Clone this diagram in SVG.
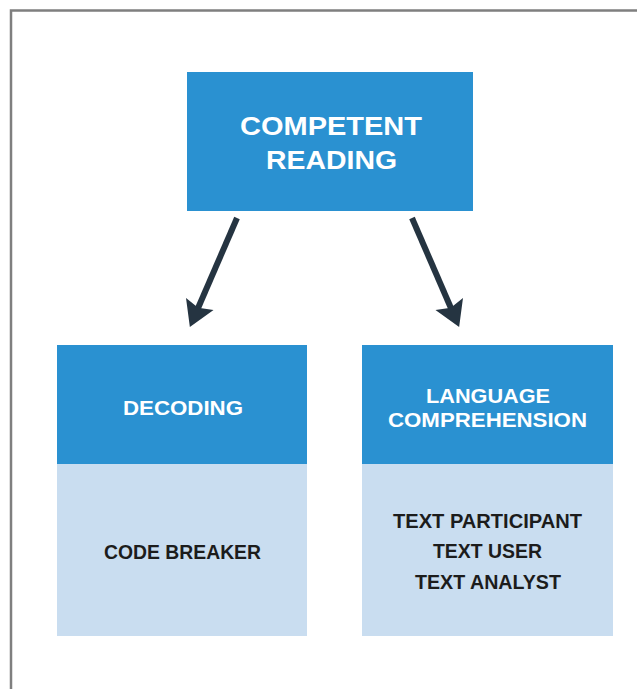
<svg xmlns="http://www.w3.org/2000/svg" width="637" height="689" viewBox="0 0 637 689">
<style>
.frame{stroke:#7f7f7f;stroke-width:2.5;fill:none}
.hdr{fill:#2a91d1}
.body{fill:#c9ddf0}
.t{font-family:"Liberation Sans",Arial,sans-serif;font-weight:bold;text-anchor:middle}
.w{fill:#ffffff}
.d{fill:#1c1c1c}
.conn{stroke:#253441;stroke-width:6;fill:none}
</style>
<defs>
<marker id="ah" markerUnits="userSpaceOnUse" markerWidth="28" markerHeight="32" viewBox="-26 -16 28 32" refX="-18" refY="0" orient="auto" overflow="visible">
<path d="M0,0 L-25,-15 L-21,0 L-25,15 Z" fill="#253441"/>
</marker>
</defs>
<rect width="637" height="689" fill="#ffffff"/>
<path class="frame" d="M11,689 V10.5 H637"/>
<g id="competent-reading">
<rect class="hdr" x="187" y="72" width="286" height="139"/>
<text class="t w" x="331" y="135" font-size="25" textLength="182" lengthAdjust="spacingAndGlyphs">COMPETENT</text>
<text class="t w" x="331.5" y="169" font-size="25" textLength="131" lengthAdjust="spacingAndGlyphs">READING</text>
</g>
<g id="decoding">
<rect class="body" x="57" y="345" width="250" height="291"/>
<rect class="hdr" x="57" y="345" width="250" height="119"/>
<text class="t w" x="183" y="415" font-size="21" textLength="120" lengthAdjust="spacingAndGlyphs">DECODING</text>
<text class="t d" x="182.5" y="559" font-size="20" textLength="157" lengthAdjust="spacingAndGlyphs">CODE BREAKER</text>
</g>
<g id="language-comprehension">
<rect class="body" x="362" y="345" width="251" height="291"/>
<rect class="hdr" x="362" y="345" width="251" height="119"/>
<text class="t w" x="488" y="403" font-size="21" textLength="124" lengthAdjust="spacingAndGlyphs">LANGUAGE</text>
<text class="t w" x="487.5" y="427" font-size="21" textLength="199" lengthAdjust="spacingAndGlyphs">COMPREHENSION</text>
<text class="t d" x="487.5" y="528" font-size="20" textLength="189" lengthAdjust="spacingAndGlyphs">TEXT PARTICIPANT</text>
<text class="t d" x="487.5" y="558" font-size="20" textLength="109" lengthAdjust="spacingAndGlyphs">TEXT USER</text>
<text class="t d" x="488" y="589" font-size="20" textLength="146" lengthAdjust="spacingAndGlyphs">TEXT ANALYST</text>
</g>
<g id="connectors">
<line class="conn" x1="237" y1="218" x2="197" y2="310.5" marker-end="url(#ah)"/>
<line class="conn" x1="412" y1="218" x2="452" y2="310.5" marker-end="url(#ah)"/>
</g>
</svg>
